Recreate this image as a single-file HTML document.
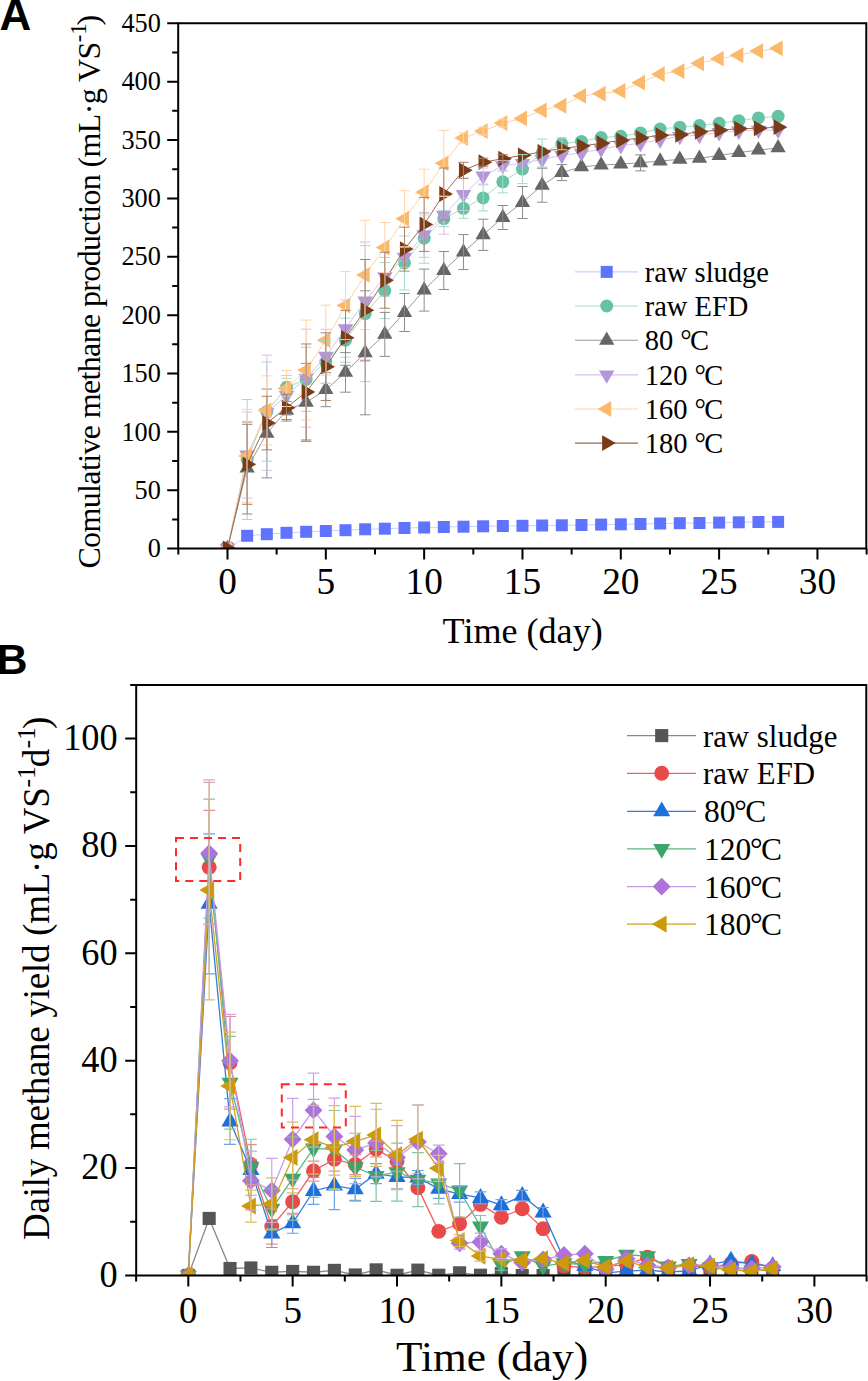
<!DOCTYPE html><html><head><meta charset="utf-8"><style>html,body{margin:0;padding:0;background:#fff;width:868px;height:1381px;overflow:hidden}svg{display:block}text{font-family:"Liberation Serif",serif;fill:#000}.lab{font-family:"Liberation Sans",sans-serif;font-weight:bold}</style></head><body>
<svg width="868" height="1381" viewBox="0 0 868 1381">
<text x="-0.6" y="29.7" font-size="44" class="lab">A</text>
<text transform="translate(160.9 557.3) scale(0.97 1)" font-size="27.1" text-anchor="end">0</text>
<text transform="translate(160.9 498.94) scale(0.97 1)" font-size="27.1" text-anchor="end">50</text>
<text transform="translate(160.9 440.57) scale(0.97 1)" font-size="27.1" text-anchor="end">100</text>
<text transform="translate(160.9 382.2) scale(0.97 1)" font-size="27.1" text-anchor="end">150</text>
<text transform="translate(160.9 323.84) scale(0.97 1)" font-size="27.1" text-anchor="end">200</text>
<text transform="translate(160.9 265.48) scale(0.97 1)" font-size="27.1" text-anchor="end">250</text>
<text transform="translate(160.9 207.11) scale(0.97 1)" font-size="27.1" text-anchor="end">300</text>
<text transform="translate(160.9 148.75) scale(0.97 1)" font-size="27.1" text-anchor="end">350</text>
<text transform="translate(160.9 90.38) scale(0.97 1)" font-size="27.1" text-anchor="end">400</text>
<text transform="translate(160.9 32.02) scale(0.97 1)" font-size="27.1" text-anchor="end">450</text>
<text x="227.5" y="593.9" font-size="37.3" text-anchor="middle">0</text>
<text x="325.82" y="593.9" font-size="37.3" text-anchor="middle">5</text>
<text x="424.15" y="593.9" font-size="37.3" text-anchor="middle">10</text>
<text x="522.47" y="593.9" font-size="37.3" text-anchor="middle">15</text>
<text x="620.8" y="593.9" font-size="37.3" text-anchor="middle">20</text>
<text x="719.12" y="593.9" font-size="37.3" text-anchor="middle">25</text>
<text x="817.45" y="593.9" font-size="37.3" text-anchor="middle">30</text>
<text transform="translate(442.6 643.3) scale(1.02 1)" font-size="35.4">Time (day)</text>
<text transform="translate(100 568.6) rotate(-90)" font-size="32" textLength="526.8" lengthAdjust="spacing">Comulative methane production (mL·g VS</text>
<text transform="translate(85.9 42.2) rotate(-90)" font-size="22.7">-1</text>
<text transform="translate(99.1 25.4) rotate(-90)" font-size="32">)</text>
<defs><clipPath id="ca"><rect x="178.2" y="23.3" width="688.1" height="525.3"/></clipPath><clipPath id="cb"><rect x="136.2" y="685.4" width="730.1" height="590"/></clipPath></defs>
<g clip-path="url(#ca)">
<polyline points="227.5,548.5 247.16,535.8 266.83,534.2 286.5,532.8 306.16,531.8 325.82,531 345.49,530.2 365.15,529.3 384.82,528.7 404.49,528 424.15,527.5 443.81,527 463.48,526.7 483.14,526.3 502.81,526 522.47,525.8 542.14,525.5 561.81,525.3 581.47,525 601.13,524.6 620.8,524.3 640.46,524 660.13,523.5 679.79,523.2 699.46,523 719.12,522.6 738.79,522.3 758.45,522 778.12,521.9" fill="none" stroke="#C9CFFF" stroke-width="1"/>
<rect x="221.5" y="542.5" width="12" height="12" fill="#5F73FF"/>
<rect x="241.16" y="529.8" width="12" height="12" fill="#5F73FF"/>
<rect x="260.83" y="528.2" width="12" height="12" fill="#5F73FF"/>
<rect x="280.5" y="526.8" width="12" height="12" fill="#5F73FF"/>
<rect x="300.16" y="525.8" width="12" height="12" fill="#5F73FF"/>
<rect x="319.82" y="525" width="12" height="12" fill="#5F73FF"/>
<rect x="339.49" y="524.2" width="12" height="12" fill="#5F73FF"/>
<rect x="359.15" y="523.3" width="12" height="12" fill="#5F73FF"/>
<rect x="378.82" y="522.7" width="12" height="12" fill="#5F73FF"/>
<rect x="398.49" y="522" width="12" height="12" fill="#5F73FF"/>
<rect x="418.15" y="521.5" width="12" height="12" fill="#5F73FF"/>
<rect x="437.81" y="521" width="12" height="12" fill="#5F73FF"/>
<rect x="457.48" y="520.7" width="12" height="12" fill="#5F73FF"/>
<rect x="477.14" y="520.3" width="12" height="12" fill="#5F73FF"/>
<rect x="496.81" y="520" width="12" height="12" fill="#5F73FF"/>
<rect x="516.47" y="519.8" width="12" height="12" fill="#5F73FF"/>
<rect x="536.14" y="519.5" width="12" height="12" fill="#5F73FF"/>
<rect x="555.81" y="519.3" width="12" height="12" fill="#5F73FF"/>
<rect x="575.47" y="519" width="12" height="12" fill="#5F73FF"/>
<rect x="595.13" y="518.6" width="12" height="12" fill="#5F73FF"/>
<rect x="614.8" y="518.3" width="12" height="12" fill="#5F73FF"/>
<rect x="634.46" y="518" width="12" height="12" fill="#5F73FF"/>
<rect x="654.13" y="517.5" width="12" height="12" fill="#5F73FF"/>
<rect x="673.79" y="517.2" width="12" height="12" fill="#5F73FF"/>
<rect x="693.46" y="517" width="12" height="12" fill="#5F73FF"/>
<rect x="713.12" y="516.6" width="12" height="12" fill="#5F73FF"/>
<rect x="732.79" y="516.3" width="12" height="12" fill="#5F73FF"/>
<rect x="752.45" y="516" width="12" height="12" fill="#5F73FF"/>
<rect x="772.12" y="515.9" width="12" height="12" fill="#5F73FF"/>
<polyline points="227.5,548.5 247.16,459.5 266.83,411.57 286.5,387.37 306.16,379.31 325.82,362.03 345.49,340.14 365.15,313.64 384.82,290.6 404.49,262.95 424.15,238.25 443.81,218.66 463.48,208.29 483.14,197.93 502.81,181.8 522.47,169.12 542.14,153 561.81,143.78 581.47,141.47 601.13,137.51 620.8,136.36 640.46,132.9 660.13,128.99 679.79,127.14 699.46,125.53 719.12,123.23 738.79,120.69 758.45,117.93 778.12,116.31" fill="none" stroke="#A8DCCB" stroke-width="1"/>
<circle cx="227.5" cy="548.5" r="6.5" fill="#66C2A5"/>
<circle cx="247.16" cy="459.5" r="6.5" fill="#66C2A5"/>
<circle cx="266.83" cy="411.57" r="6.5" fill="#66C2A5"/>
<circle cx="286.5" cy="387.37" r="6.5" fill="#66C2A5"/>
<circle cx="306.16" cy="379.31" r="6.5" fill="#66C2A5"/>
<circle cx="325.82" cy="362.03" r="6.5" fill="#66C2A5"/>
<circle cx="345.49" cy="340.14" r="6.5" fill="#66C2A5"/>
<circle cx="365.15" cy="313.64" r="6.5" fill="#66C2A5"/>
<circle cx="384.82" cy="290.6" r="6.5" fill="#66C2A5"/>
<circle cx="404.49" cy="262.95" r="6.5" fill="#66C2A5"/>
<circle cx="424.15" cy="238.25" r="6.5" fill="#66C2A5"/>
<circle cx="443.81" cy="218.66" r="6.5" fill="#66C2A5"/>
<circle cx="463.48" cy="208.29" r="6.5" fill="#66C2A5"/>
<circle cx="483.14" cy="197.93" r="6.5" fill="#66C2A5"/>
<circle cx="502.81" cy="181.8" r="6.5" fill="#66C2A5"/>
<circle cx="522.47" cy="169.12" r="6.5" fill="#66C2A5"/>
<circle cx="542.14" cy="153" r="6.5" fill="#66C2A5"/>
<circle cx="561.81" cy="143.78" r="6.5" fill="#66C2A5"/>
<circle cx="581.47" cy="141.47" r="6.5" fill="#66C2A5"/>
<circle cx="601.13" cy="137.51" r="6.5" fill="#66C2A5"/>
<circle cx="620.8" cy="136.36" r="6.5" fill="#66C2A5"/>
<circle cx="640.46" cy="132.9" r="6.5" fill="#66C2A5"/>
<circle cx="660.13" cy="128.99" r="6.5" fill="#66C2A5"/>
<circle cx="679.79" cy="127.14" r="6.5" fill="#66C2A5"/>
<circle cx="699.46" cy="125.53" r="6.5" fill="#66C2A5"/>
<circle cx="719.12" cy="123.23" r="6.5" fill="#66C2A5"/>
<circle cx="738.79" cy="120.69" r="6.5" fill="#66C2A5"/>
<circle cx="758.45" cy="117.93" r="6.5" fill="#66C2A5"/>
<circle cx="778.12" cy="116.31" r="6.5" fill="#66C2A5"/>
<polyline points="227.5,548.5 247.16,468 266.83,433.46 286.5,410.41 306.16,402.35 325.82,389.68 345.49,372.4 365.15,352.81 384.82,334.38 404.49,312.49 424.15,290.09 443.81,270.51 463.48,252.07 483.14,234.79 502.81,217.51 522.47,202.53 542.14,185.25 561.81,172.58 581.47,166.82 601.13,165.16 620.8,164.01 640.46,162.86 660.13,161.01 679.79,159.4 699.46,158.25 719.12,155.48 738.79,152.49 758.45,150.18 778.12,147.88" fill="none" stroke="#999999" stroke-width="1"/>
<polygon points="227.5,539.67 235.15,552.92 219.85,552.92" fill="#666666"/>
<polygon points="247.16,459.17 254.81,472.42 239.51,472.42" fill="#666666"/>
<polygon points="266.83,424.62 274.48,437.87 259.18,437.87" fill="#666666"/>
<polygon points="286.5,401.58 294.14,414.83 278.85,414.83" fill="#666666"/>
<polygon points="306.16,393.52 313.81,406.77 298.51,406.77" fill="#666666"/>
<polygon points="325.82,380.84 333.47,394.09 318.18,394.09" fill="#666666"/>
<polygon points="345.49,363.56 353.14,376.81 337.84,376.81" fill="#666666"/>
<polygon points="365.15,343.98 372.8,357.23 357.5,357.23" fill="#666666"/>
<polygon points="384.82,325.54 392.47,338.79 377.17,338.79" fill="#666666"/>
<polygon points="404.49,303.66 412.13,316.91 396.84,316.91" fill="#666666"/>
<polygon points="424.15,281.26 431.8,294.51 416.5,294.51" fill="#666666"/>
<polygon points="443.81,261.67 451.46,274.92 436.17,274.92" fill="#666666"/>
<polygon points="463.48,243.24 471.13,256.49 455.83,256.49" fill="#666666"/>
<polygon points="483.14,225.96 490.79,239.21 475.5,239.21" fill="#666666"/>
<polygon points="502.81,208.68 510.46,221.93 495.16,221.93" fill="#666666"/>
<polygon points="522.47,193.7 530.12,206.95 514.82,206.95" fill="#666666"/>
<polygon points="542.14,176.42 549.79,189.67 534.49,189.67" fill="#666666"/>
<polygon points="561.81,163.75 569.46,177 554.16,177" fill="#666666"/>
<polygon points="581.47,157.99 589.12,171.24 573.82,171.24" fill="#666666"/>
<polygon points="601.13,156.33 608.78,169.58 593.49,169.58" fill="#666666"/>
<polygon points="620.8,155.18 628.45,168.43 613.15,168.43" fill="#666666"/>
<polygon points="640.46,154.02 648.11,167.27 632.81,167.27" fill="#666666"/>
<polygon points="660.13,152.18 667.78,165.43 652.48,165.43" fill="#666666"/>
<polygon points="679.79,150.57 687.44,163.82 672.14,163.82" fill="#666666"/>
<polygon points="699.46,149.42 707.11,162.67 691.81,162.67" fill="#666666"/>
<polygon points="719.12,146.65 726.77,159.9 711.48,159.9" fill="#666666"/>
<polygon points="738.79,143.66 746.44,156.91 731.14,156.91" fill="#666666"/>
<polygon points="758.45,141.35 766.1,154.6 750.8,154.6" fill="#666666"/>
<polygon points="778.12,139.05 785.77,152.3 770.47,152.3" fill="#666666"/>
<polyline points="227.5,548.5 247.16,455 266.83,412.72 286.5,395.44 306.16,378.16 325.82,356.27 345.49,328.62 365.15,300.97 384.82,276.77 404.49,257.19 424.15,234.79 443.81,215.21 463.48,194.47 483.14,176.04 502.81,165.67 522.47,163.36 542.14,159.45 561.81,155.3 581.47,153 601.13,149.03 620.8,145.58 640.46,143.27 660.13,139.82 679.79,136.36 699.46,135.21 719.12,132.44 738.79,131.06 758.45,130.14 778.12,130.14" fill="none" stroke="#D5C3EC" stroke-width="1"/>
<polygon points="227.5,557.45 235.25,544.03 219.75,544.03" fill="#B497D8"/>
<polygon points="247.16,463.95 254.91,450.53 239.41,450.53" fill="#B497D8"/>
<polygon points="266.83,421.67 274.58,408.24 259.08,408.24" fill="#B497D8"/>
<polygon points="286.5,404.39 294.25,390.96 278.75,390.96" fill="#B497D8"/>
<polygon points="306.16,387.11 313.91,373.68 298.41,373.68" fill="#B497D8"/>
<polygon points="325.82,365.22 333.57,351.79 318.07,351.79" fill="#B497D8"/>
<polygon points="345.49,337.57 353.24,324.14 337.74,324.14" fill="#B497D8"/>
<polygon points="365.15,309.92 372.9,296.49 357.4,296.49" fill="#B497D8"/>
<polygon points="384.82,285.72 392.57,272.3 377.07,272.3" fill="#B497D8"/>
<polygon points="404.49,266.14 412.24,252.71 396.74,252.71" fill="#B497D8"/>
<polygon points="424.15,243.74 431.9,230.32 416.4,230.32" fill="#B497D8"/>
<polygon points="443.81,224.16 451.56,210.73 436.06,210.73" fill="#B497D8"/>
<polygon points="463.48,203.42 471.23,190 455.73,190" fill="#B497D8"/>
<polygon points="483.14,184.99 490.89,171.56 475.39,171.56" fill="#B497D8"/>
<polygon points="502.81,174.62 510.56,161.19 495.06,161.19" fill="#B497D8"/>
<polygon points="522.47,172.31 530.22,158.89 514.72,158.89" fill="#B497D8"/>
<polygon points="542.14,168.4 549.89,154.97 534.39,154.97" fill="#B497D8"/>
<polygon points="561.81,164.25 569.56,150.83 554.06,150.83" fill="#B497D8"/>
<polygon points="581.47,161.94 589.22,148.52 573.72,148.52" fill="#B497D8"/>
<polygon points="601.13,157.98 608.88,144.56 593.38,144.56" fill="#B497D8"/>
<polygon points="620.8,154.52 628.55,141.1 613.05,141.1" fill="#B497D8"/>
<polygon points="640.46,152.22 648.21,138.8 632.71,138.8" fill="#B497D8"/>
<polygon points="660.13,148.76 667.88,135.34 652.38,135.34" fill="#B497D8"/>
<polygon points="679.79,145.31 687.54,131.89 672.04,131.89" fill="#B497D8"/>
<polygon points="699.46,144.16 707.21,130.73 691.71,130.73" fill="#B497D8"/>
<polygon points="719.12,141.39 726.88,127.97 711.38,127.97" fill="#B497D8"/>
<polygon points="738.79,140.01 746.54,126.59 731.04,126.59" fill="#B497D8"/>
<polygon points="758.45,139.09 766.2,125.66 750.7,125.66" fill="#B497D8"/>
<polygon points="778.12,139.09 785.87,125.66 770.37,125.66" fill="#B497D8"/>
<polyline points="227.5,548.5 247.16,456 266.83,410.41 286.5,388.53 306.16,370.09 325.82,340.14 345.49,305.58 365.15,274.93 384.82,247.51 404.49,218.71 424.15,192.17 443.81,163.36 463.48,138.02 483.14,131.11 502.81,123.04 522.47,118.43 542.14,110.37 561.81,105.76 581.47,95.85 601.13,93.73 620.8,90.97 640.46,82.67 660.13,74.15 679.79,71.15 699.46,63.32 719.12,58.71 738.79,55.25 758.45,51.11 778.12,48.34" fill="none" stroke="#FDD4A3" stroke-width="1"/>
<polygon points="218.38,548.5 232.06,540.6 232.06,556.4" fill="#FDB96B"/>
<polygon points="238.04,456 251.73,448.1 251.73,463.9" fill="#FDB96B"/>
<polygon points="257.71,410.41 271.39,402.51 271.39,418.31" fill="#FDB96B"/>
<polygon points="277.37,388.53 291.06,380.63 291.06,396.43" fill="#FDB96B"/>
<polygon points="297.04,370.09 310.72,362.19 310.72,377.99" fill="#FDB96B"/>
<polygon points="316.7,340.14 330.39,332.24 330.39,348.04" fill="#FDB96B"/>
<polygon points="336.37,305.58 350.05,297.68 350.05,313.48" fill="#FDB96B"/>
<polygon points="356.03,274.93 369.72,267.03 369.72,282.83" fill="#FDB96B"/>
<polygon points="375.7,247.51 389.38,239.61 389.38,255.41" fill="#FDB96B"/>
<polygon points="395.36,218.71 409.05,210.81 409.05,226.61" fill="#FDB96B"/>
<polygon points="415.03,192.17 428.71,184.27 428.71,200.07" fill="#FDB96B"/>
<polygon points="434.69,163.36 448.38,155.46 448.38,171.26" fill="#FDB96B"/>
<polygon points="454.36,138.02 468.04,130.12 468.04,145.92" fill="#FDB96B"/>
<polygon points="474.02,131.11 487.71,123.21 487.71,139.01" fill="#FDB96B"/>
<polygon points="493.69,123.04 507.37,115.14 507.37,130.94" fill="#FDB96B"/>
<polygon points="513.35,118.43 527.04,110.53 527.04,126.33" fill="#FDB96B"/>
<polygon points="533.02,110.37 546.7,102.47 546.7,118.27" fill="#FDB96B"/>
<polygon points="552.68,105.76 566.37,97.86 566.37,113.66" fill="#FDB96B"/>
<polygon points="572.35,95.85 586.03,87.95 586.03,103.75" fill="#FDB96B"/>
<polygon points="592.01,93.73 605.7,85.83 605.7,101.63" fill="#FDB96B"/>
<polygon points="611.68,90.97 625.36,83.07 625.36,98.87" fill="#FDB96B"/>
<polygon points="631.34,82.67 645.03,74.77 645.03,90.57" fill="#FDB96B"/>
<polygon points="651.01,74.15 664.69,66.25 664.69,82.05" fill="#FDB96B"/>
<polygon points="670.67,71.15 684.36,63.25 684.36,79.05" fill="#FDB96B"/>
<polygon points="690.34,63.32 704.02,55.42 704.02,71.22" fill="#FDB96B"/>
<polygon points="710,58.71 723.69,50.81 723.69,66.61" fill="#FDB96B"/>
<polygon points="729.67,55.25 743.35,47.35 743.35,63.15" fill="#FDB96B"/>
<polygon points="749.33,51.11 763.02,43.21 763.02,59.01" fill="#FDB96B"/>
<polygon points="769,48.34 782.68,40.44 782.68,56.24" fill="#FDB96B"/>
<polyline points="227.5,548.5 247.16,464.3 266.83,423.09 286.5,407.65 306.16,391.98 325.82,366.64 345.49,337.83 365.15,310.18 384.82,280.23 404.49,249.12 424.15,224.42 443.81,194.01 463.48,170.28 483.14,162.21 502.81,158.76 522.47,155.3 542.14,151.84 561.81,148.39 581.47,146.08 601.13,143.27 620.8,140.28 640.46,137.97 660.13,135.21 679.79,134.75 699.46,131.75 719.12,130.14 738.79,128.76 758.45,128.29 778.12,127.14" fill="none" stroke="#9E6A4E" stroke-width="1"/>
<polygon points="236.62,548.5 222.94,540.6 222.94,556.4" fill="#7A3B17"/>
<polygon points="256.29,464.3 242.6,456.4 242.6,472.2" fill="#7A3B17"/>
<polygon points="275.95,423.09 262.27,415.19 262.27,430.99" fill="#7A3B17"/>
<polygon points="295.62,407.65 281.93,399.75 281.93,415.55" fill="#7A3B17"/>
<polygon points="315.28,391.98 301.6,384.08 301.6,399.88" fill="#7A3B17"/>
<polygon points="334.95,366.64 321.26,358.74 321.26,374.54" fill="#7A3B17"/>
<polygon points="354.61,337.83 340.93,329.93 340.93,345.73" fill="#7A3B17"/>
<polygon points="374.28,310.18 360.59,302.28 360.59,318.08" fill="#7A3B17"/>
<polygon points="393.94,280.23 380.26,272.33 380.26,288.13" fill="#7A3B17"/>
<polygon points="413.61,249.12 399.92,241.22 399.92,257.02" fill="#7A3B17"/>
<polygon points="433.27,224.42 419.59,216.52 419.59,232.32" fill="#7A3B17"/>
<polygon points="452.94,194.01 439.25,186.11 439.25,201.91" fill="#7A3B17"/>
<polygon points="472.6,170.28 458.92,162.38 458.92,178.18" fill="#7A3B17"/>
<polygon points="492.27,162.21 478.58,154.31 478.58,170.11" fill="#7A3B17"/>
<polygon points="511.93,158.76 498.25,150.86 498.25,166.66" fill="#7A3B17"/>
<polygon points="531.6,155.3 517.91,147.4 517.91,163.2" fill="#7A3B17"/>
<polygon points="551.26,151.84 537.58,143.94 537.58,159.74" fill="#7A3B17"/>
<polygon points="570.93,148.39 557.24,140.49 557.24,156.29" fill="#7A3B17"/>
<polygon points="590.59,146.08 576.91,138.18 576.91,153.98" fill="#7A3B17"/>
<polygon points="610.26,143.27 596.57,135.37 596.57,151.17" fill="#7A3B17"/>
<polygon points="629.92,140.28 616.24,132.38 616.24,148.18" fill="#7A3B17"/>
<polygon points="649.59,137.97 635.9,130.07 635.9,145.87" fill="#7A3B17"/>
<polygon points="669.25,135.21 655.57,127.31 655.57,143.11" fill="#7A3B17"/>
<polygon points="688.92,134.75 675.23,126.85 675.23,142.65" fill="#7A3B17"/>
<polygon points="708.58,131.75 694.9,123.85 694.9,139.65" fill="#7A3B17"/>
<polygon points="728.25,130.14 714.56,122.24 714.56,138.04" fill="#7A3B17"/>
<polygon points="747.91,128.76 734.23,120.86 734.23,136.66" fill="#7A3B17"/>
<polygon points="767.58,128.29 753.89,120.39 753.89,136.19" fill="#7A3B17"/>
<polygon points="787.24,127.14 773.56,119.24 773.56,135.04" fill="#7A3B17"/>
<path d="M247.16 399.5V519.5M241.97 399.5h10.4M241.97 519.5h10.4M266.83 361.97V461.17M261.63 361.97h10.4M261.63 461.17h10.4M286.5 378.37V396.37M281.3 378.37h10.4M281.3 396.37h10.4M306.16 347.31V411.31M300.96 347.31h10.4M300.96 411.31h10.4M325.82 340.53V383.53M320.62 340.53h10.4M320.62 383.53h10.4M345.49 318.14V362.14M340.29 318.14h10.4M340.29 362.14h10.4M365.15 245.64V381.64M359.95 245.64h10.4M359.95 381.64h10.4M384.82 262.6V318.6M379.62 262.6h10.4M379.62 318.6h10.4M404.49 235.95V289.95M399.29 235.95h10.4M399.29 289.95h10.4M424.15 213.25V263.25M418.95 213.25h10.4M418.95 263.25h10.4M443.81 210.66V226.66M438.62 210.66h10.4M438.62 226.66h10.4M463.48 198.29V218.29M458.28 198.29h10.4M458.28 218.29h10.4M483.14 184.93V210.93M477.94 184.93h10.4M477.94 210.93h10.4M502.81 170.8V192.8M497.61 170.8h10.4M497.61 192.8h10.4M522.47 154.62V183.62M517.27 154.62h10.4M517.27 183.62h10.4M542.14 139V167M536.94 139h10.4M536.94 167h10.4M561.81 137.78V149.78M556.61 137.78h10.4M556.61 149.78h10.4" fill="none" stroke="#A3DAC9" stroke-width="1"/>
<path d="M247.16 422V514M241.97 422h10.4M241.97 514h10.4M266.83 389.06V477.86M261.63 389.06h10.4M261.63 477.86h10.4M286.5 401.41V419.41M281.3 401.41h10.4M281.3 419.41h10.4M306.16 363.35V441.35M300.96 363.35h10.4M300.96 441.35h10.4M325.82 372.68V406.68M320.62 372.68h10.4M320.62 406.68h10.4M345.49 352.6V392.2M340.29 352.6h10.4M340.29 392.2h10.4M365.15 290.81V414.81M359.95 290.81h10.4M359.95 414.81h10.4M384.82 312.38V356.38M379.62 312.38h10.4M379.62 356.38h10.4M404.49 293.49V331.49M399.29 293.49h10.4M399.29 331.49h10.4M424.15 269.09V311.09M418.95 269.09h10.4M418.95 311.09h10.4M443.81 251.51V289.51M438.62 251.51h10.4M438.62 289.51h10.4M463.48 234.57V269.57M458.28 234.57h10.4M458.28 269.57h10.4M483.14 219.19V250.39M477.94 219.19h10.4M477.94 250.39h10.4M502.81 205.51V229.51M497.61 205.51h10.4M497.61 229.51h10.4M522.47 186.53V218.53M517.27 186.53h10.4M517.27 218.53h10.4M542.14 168.25V202.25M536.94 168.25h10.4M536.94 202.25h10.4M561.81 164.58V180.58M556.61 164.58h10.4M556.61 180.58h10.4M640.46 154.86V170.86M635.26 154.86h10.4M635.26 170.86h10.4" fill="none" stroke="#8C8C8C" stroke-width="1"/>
<path d="M247.16 412V498M241.97 412h10.4M241.97 498h10.4M266.83 355.12V470.32M261.63 355.12h10.4M261.63 470.32h10.4M286.5 375.44V415.44M281.3 375.44h10.4M281.3 415.44h10.4M306.16 329.16V427.16M300.96 329.16h10.4M300.96 427.16h10.4M325.82 329.27V383.27M320.62 329.27h10.4M320.62 383.27h10.4M345.49 300.02V357.22M340.29 300.02h10.4M340.29 357.22h10.4M365.15 241.97V359.97M359.95 241.97h10.4M359.95 359.97h10.4M384.82 257.37V296.17M379.62 257.37h10.4M379.62 296.17h10.4M404.49 247.19V267.19M399.29 247.19h10.4M399.29 267.19h10.4M424.15 212.29V257.29M418.95 212.29h10.4M418.95 257.29h10.4M443.81 196.21V234.21M438.62 196.21h10.4M438.62 234.21h10.4M463.48 178.47V210.47M458.28 178.47h10.4M458.28 210.47h10.4M483.14 168.04V184.04M477.94 168.04h10.4M477.94 184.04h10.4M502.81 160.67V170.67M497.61 160.67h10.4M497.61 170.67h10.4" fill="none" stroke="#D2C1E8" stroke-width="1"/>
<path d="M247.16 409.4V502.6M241.97 409.4h10.4M241.97 502.6h10.4M266.83 375.91V444.91M261.63 375.91h10.4M261.63 444.91h10.4M286.5 370.53V406.53M281.3 370.53h10.4M281.3 406.53h10.4M306.16 320.09V420.09M300.96 320.09h10.4M300.96 420.09h10.4M325.82 305.14V375.14M320.62 305.14h10.4M320.62 375.14h10.4M345.49 271.58V339.58M340.29 271.58h10.4M340.29 339.58h10.4M365.15 220.33V329.53M359.95 220.33h10.4M359.95 329.53h10.4M384.82 222.51V272.51M379.62 222.51h10.4M379.62 272.51h10.4M404.49 190.71V246.71M399.29 190.71h10.4M399.29 246.71h10.4M424.15 169.17V215.17M418.95 169.17h10.4M418.95 215.17h10.4M443.81 130.36V196.36M438.62 130.36h10.4M438.62 196.36h10.4M463.48 133.02V143.02M458.28 133.02h10.4M458.28 143.02h10.4M483.14 127.11V135.11M477.94 127.11h10.4M477.94 135.11h10.4M502.81 119.04V127.04M497.61 119.04h10.4M497.61 127.04h10.4" fill="none" stroke="#FED5A6" stroke-width="1"/>
<path d="M247.16 424.3V504.3M241.97 424.3h10.4M241.97 504.3h10.4M266.83 396.29V449.89M261.63 396.29h10.4M261.63 449.89h10.4M286.5 394.25V421.05M281.3 394.25h10.4M281.3 421.05h10.4M306.16 343.98V439.98M300.96 343.98h10.4M300.96 439.98h10.4M325.82 332.84V400.44M320.62 332.84h10.4M320.62 400.44h10.4M345.49 310.33V365.33M340.29 310.33h10.4M340.29 365.33h10.4M365.15 259.48V360.88M359.95 259.48h10.4M359.95 360.88h10.4M384.82 252.23V308.23M379.62 252.23h10.4M379.62 308.23h10.4M404.49 227.12V271.12M399.29 227.12h10.4M399.29 271.12h10.4M424.15 197.42V251.42M418.95 197.42h10.4M418.95 251.42h10.4M443.81 168.01V220.01M438.62 168.01h10.4M438.62 220.01h10.4M463.48 162.28V178.28M458.28 162.28h10.4M458.28 178.28h10.4M483.14 158.21V166.21M477.94 158.21h10.4M477.94 166.21h10.4M502.81 154.76V162.76M497.61 154.76h10.4M497.61 162.76h10.4" fill="none" stroke="#A98068" stroke-width="1"/>
</g>
<path d="M178.2 23.3H866.3V548.6H178.2Z" fill="none" stroke="#000" stroke-width="2"/>
<path d="M227.5 548.6v11M325.82 548.6v11M424.15 548.6v11M522.47 548.6v11M620.8 548.6v11M719.12 548.6v11M817.45 548.6v11M178.34 548.6v6M276.66 548.6v6M374.99 548.6v6M473.31 548.6v6M571.64 548.6v6M669.96 548.6v6M768.29 548.6v6M866.61 548.6v6M178.2 548.6h-11M178.2 490.24h-11M178.2 431.87h-11M178.2 373.5h-11M178.2 315.14h-11M178.2 256.78h-11M178.2 198.41h-11M178.2 140.05h-11M178.2 81.68h-11M178.2 23.32h-11M178.2 519.42h-6M178.2 461.05h-6M178.2 402.69h-6M178.2 344.32h-6M178.2 285.96h-6M178.2 227.59h-6M178.2 169.23h-6M178.2 110.86h-6M178.2 52.5h-6" stroke="#000" stroke-width="2" fill="none"/>
<path d="M575 271.9H638" stroke="#C9CFFF" stroke-width="1.1"/>
<rect x="600.7" y="265.9" width="12" height="12" fill="#5F73FF"/>
<text x="644.7" y="281.7" font-size="28.5">raw sludge</text>
<path d="M575 306H638" stroke="#A8DCCB" stroke-width="1.1"/>
<circle cx="606.7" cy="306" r="6.5" fill="#66C2A5"/>
<text x="644.7" y="315.8" font-size="28.5">raw EFD</text>
<path d="M575 340.3H638" stroke="#999999" stroke-width="1.1"/>
<polygon points="606.7,331.47 614.35,344.72 599.05,344.72" fill="#666666"/>
<text x="644.7" y="350.1" font-size="28.5">80 °<tspan dx="-1.8">C</tspan></text>
<path d="M575 374.9H638" stroke="#D5C3EC" stroke-width="1.1"/>
<polygon points="606.7,383.85 614.45,370.43 598.95,370.43" fill="#B497D8"/>
<text x="644.7" y="384.7" font-size="28.5">120 °<tspan dx="-1.8">C</tspan></text>
<path d="M575 409H638" stroke="#FDD4A3" stroke-width="1.1"/>
<polygon points="597.58,409 611.26,401.1 611.26,416.9" fill="#FDB96B"/>
<text x="644.7" y="418.8" font-size="28.5">160 °<tspan dx="-1.8">C</tspan></text>
<path d="M575 443.1H638" stroke="#9E6A4E" stroke-width="1.1"/>
<polygon points="615.82,443.1 602.14,435.2 602.14,451" fill="#7A3B17"/>
<text x="644.7" y="452.9" font-size="28.5">180 °<tspan dx="-1.8">C</tspan></text>
<text x="-3.6" y="674.1" font-size="43" class="lab">B</text>
<text transform="translate(117.7 1286.6) scale(0.97 1)" font-size="37.5" text-anchor="end">0</text>
<text transform="translate(117.7 1179.24) scale(0.97 1)" font-size="37.5" text-anchor="end">20</text>
<text transform="translate(117.7 1071.88) scale(0.97 1)" font-size="37.5" text-anchor="end">40</text>
<text transform="translate(117.7 964.52) scale(0.97 1)" font-size="37.5" text-anchor="end">60</text>
<text transform="translate(117.7 857.16) scale(0.97 1)" font-size="37.5" text-anchor="end">80</text>
<text transform="translate(117.7 749.8) scale(0.97 1)" font-size="37.5" text-anchor="end">100</text>
<text x="188.3" y="1323.4" font-size="37" text-anchor="middle">0</text>
<text x="292.65" y="1323.4" font-size="37" text-anchor="middle">5</text>
<text x="397" y="1323.4" font-size="37" text-anchor="middle">10</text>
<text x="501.35" y="1323.4" font-size="37" text-anchor="middle">15</text>
<text x="605.7" y="1323.4" font-size="37" text-anchor="middle">20</text>
<text x="710.05" y="1323.4" font-size="37" text-anchor="middle">25</text>
<text x="814.4" y="1323.4" font-size="37" text-anchor="middle">30</text>
<text transform="translate(396 1370.9) scale(1.02 1)" font-size="42.5">Time (day)</text>
<text transform="translate(49.4 1239.9) rotate(-90)" font-size="37" textLength="452.7" lengthAdjust="spacing">Daily methane yield (mL·g VS</text>
<text transform="translate(35 787.6) rotate(-90)" font-size="25.8">-1</text>
<text transform="translate(49.4 767.3) rotate(-90)" font-size="37">d</text>
<text transform="translate(35 748.5) rotate(-90)" font-size="25.8">-1</text>
<text transform="translate(49 728.9) rotate(-90)" font-size="37">)</text>
<g clip-path="url(#cb)">
<polyline points="188.3,1275.5 209.17,1218.42 230.04,1268.5 250.91,1267.96 271.78,1272.27 292.65,1271.46 313.52,1272.27 334.39,1270.38 355.26,1274.96 376.13,1269.85 397,1275.23 417.87,1270.12 438.74,1275.23 459.61,1272.81 480.48,1275.23 501.35,1273.62 522.22,1275.5 543.09,1275.5 563.96,1274.96 584.83,1274.96 605.7,1275.23 626.57,1275.23 647.44,1275.23 668.31,1275.23 689.18,1275.23 710.05,1275.23 730.92,1275.23 751.79,1275.23 772.66,1275.23" fill="none" stroke="#888888" stroke-width="1.3"/>
<rect x="181.75" y="1268.95" width="13.1" height="13.1" fill="#555555"/>
<rect x="202.62" y="1211.87" width="13.1" height="13.1" fill="#555555"/>
<rect x="223.49" y="1261.95" width="13.1" height="13.1" fill="#555555"/>
<rect x="244.36" y="1261.41" width="13.1" height="13.1" fill="#555555"/>
<rect x="265.23" y="1265.72" width="13.1" height="13.1" fill="#555555"/>
<rect x="286.1" y="1264.91" width="13.1" height="13.1" fill="#555555"/>
<rect x="306.97" y="1265.72" width="13.1" height="13.1" fill="#555555"/>
<rect x="327.84" y="1263.83" width="13.1" height="13.1" fill="#555555"/>
<rect x="348.71" y="1268.41" width="13.1" height="13.1" fill="#555555"/>
<rect x="369.58" y="1263.3" width="13.1" height="13.1" fill="#555555"/>
<rect x="390.45" y="1268.68" width="13.1" height="13.1" fill="#555555"/>
<rect x="411.32" y="1263.57" width="13.1" height="13.1" fill="#555555"/>
<rect x="432.19" y="1268.68" width="13.1" height="13.1" fill="#555555"/>
<rect x="453.06" y="1266.26" width="13.1" height="13.1" fill="#555555"/>
<rect x="473.93" y="1268.68" width="13.1" height="13.1" fill="#555555"/>
<rect x="494.8" y="1267.07" width="13.1" height="13.1" fill="#555555"/>
<rect x="515.67" y="1268.95" width="13.1" height="13.1" fill="#555555"/>
<rect x="536.54" y="1268.95" width="13.1" height="13.1" fill="#555555"/>
<rect x="557.41" y="1268.41" width="13.1" height="13.1" fill="#555555"/>
<rect x="578.28" y="1268.41" width="13.1" height="13.1" fill="#555555"/>
<rect x="599.15" y="1268.68" width="13.1" height="13.1" fill="#555555"/>
<rect x="620.02" y="1268.68" width="13.1" height="13.1" fill="#555555"/>
<rect x="640.89" y="1268.68" width="13.1" height="13.1" fill="#555555"/>
<rect x="661.76" y="1268.68" width="13.1" height="13.1" fill="#555555"/>
<rect x="682.63" y="1268.68" width="13.1" height="13.1" fill="#555555"/>
<rect x="703.5" y="1268.68" width="13.1" height="13.1" fill="#555555"/>
<rect x="724.37" y="1268.68" width="13.1" height="13.1" fill="#555555"/>
<rect x="745.24" y="1268.68" width="13.1" height="13.1" fill="#555555"/>
<rect x="766.11" y="1268.68" width="13.1" height="13.1" fill="#555555"/>
<polyline points="188.3,1275.5 209.17,867.32 230.04,1062.79 250.91,1164.57 271.78,1226.5 292.65,1201.73 313.52,1171.03 334.39,1159.18 355.26,1164.57 376.13,1148.95 397,1161.34 417.87,1187.72 438.74,1231.34 459.61,1223.8 480.48,1204.42 501.35,1217.34 522.22,1208.73 543.09,1228.65 563.96,1266.08 584.83,1267.42 605.7,1266.35 626.57,1264.73 647.44,1257.19 668.31,1267.42 689.18,1265.81 710.05,1267.42 730.92,1263.65 751.79,1261.5 772.66,1268.5" fill="none" stroke="#EE6060" stroke-width="1.3"/>
<circle cx="188.3" cy="1275.5" r="7.45" fill="#E84A4A"/>
<circle cx="209.17" cy="867.32" r="7.45" fill="#E84A4A"/>
<circle cx="230.04" cy="1062.79" r="7.45" fill="#E84A4A"/>
<circle cx="250.91" cy="1164.57" r="7.45" fill="#E84A4A"/>
<circle cx="271.78" cy="1226.5" r="7.45" fill="#E84A4A"/>
<circle cx="292.65" cy="1201.73" r="7.45" fill="#E84A4A"/>
<circle cx="313.52" cy="1171.03" r="7.45" fill="#E84A4A"/>
<circle cx="334.39" cy="1159.18" r="7.45" fill="#E84A4A"/>
<circle cx="355.26" cy="1164.57" r="7.45" fill="#E84A4A"/>
<circle cx="376.13" cy="1148.95" r="7.45" fill="#E84A4A"/>
<circle cx="397" cy="1161.34" r="7.45" fill="#E84A4A"/>
<circle cx="417.87" cy="1187.72" r="7.45" fill="#E84A4A"/>
<circle cx="438.74" cy="1231.34" r="7.45" fill="#E84A4A"/>
<circle cx="459.61" cy="1223.8" r="7.45" fill="#E84A4A"/>
<circle cx="480.48" cy="1204.42" r="7.45" fill="#E84A4A"/>
<circle cx="501.35" cy="1217.34" r="7.45" fill="#E84A4A"/>
<circle cx="522.22" cy="1208.73" r="7.45" fill="#E84A4A"/>
<circle cx="543.09" cy="1228.65" r="7.45" fill="#E84A4A"/>
<circle cx="563.96" cy="1266.08" r="7.45" fill="#E84A4A"/>
<circle cx="584.83" cy="1267.42" r="7.45" fill="#E84A4A"/>
<circle cx="605.7" cy="1266.35" r="7.45" fill="#E84A4A"/>
<circle cx="626.57" cy="1264.73" r="7.45" fill="#E84A4A"/>
<circle cx="647.44" cy="1257.19" r="7.45" fill="#E84A4A"/>
<circle cx="668.31" cy="1267.42" r="7.45" fill="#E84A4A"/>
<circle cx="689.18" cy="1265.81" r="7.45" fill="#E84A4A"/>
<circle cx="710.05" cy="1267.42" r="7.45" fill="#E84A4A"/>
<circle cx="730.92" cy="1263.65" r="7.45" fill="#E84A4A"/>
<circle cx="751.79" cy="1261.5" r="7.45" fill="#E84A4A"/>
<circle cx="772.66" cy="1268.5" r="7.45" fill="#E84A4A"/>
<polyline points="188.3,1275.5 209.17,903.93 230.04,1121.49 250.91,1169.95 271.78,1233.5 292.65,1223.27 313.52,1190.96 334.39,1185.57 355.26,1189.34 376.13,1173.72 397,1176.95 417.87,1177.49 438.74,1188.8 459.61,1194.19 480.48,1197.96 501.35,1205.23 522.22,1195.8 543.09,1212.5 563.96,1259.35 584.83,1266.08 605.7,1272.81 626.57,1271.19 647.44,1270.12 668.31,1272 689.18,1270.92 710.05,1264.41 730.92,1260.58 751.79,1264.19 772.66,1266.08" fill="none" stroke="#2F7BE0" stroke-width="1.3"/>
<polygon points="188.3,1265.63 196.85,1280.44 179.75,1280.44" fill="#1E6FDB"/>
<polygon points="209.17,894.06 217.72,908.87 200.62,908.87" fill="#1E6FDB"/>
<polygon points="230.04,1111.62 238.59,1126.43 221.49,1126.43" fill="#1E6FDB"/>
<polygon points="250.91,1160.08 259.46,1174.89 242.36,1174.89" fill="#1E6FDB"/>
<polygon points="271.78,1223.62 280.33,1238.43 263.23,1238.43" fill="#1E6FDB"/>
<polygon points="292.65,1213.39 301.2,1228.2 284.1,1228.2" fill="#1E6FDB"/>
<polygon points="313.52,1181.08 322.07,1195.89 304.97,1195.89" fill="#1E6FDB"/>
<polygon points="334.39,1175.7 342.94,1190.51 325.84,1190.51" fill="#1E6FDB"/>
<polygon points="355.26,1179.47 363.81,1194.28 346.71,1194.28" fill="#1E6FDB"/>
<polygon points="376.13,1163.85 384.68,1178.66 367.58,1178.66" fill="#1E6FDB"/>
<polygon points="397,1167.08 405.55,1181.89 388.45,1181.89" fill="#1E6FDB"/>
<polygon points="417.87,1167.62 426.42,1182.43 409.32,1182.43" fill="#1E6FDB"/>
<polygon points="438.74,1178.93 447.29,1193.74 430.19,1193.74" fill="#1E6FDB"/>
<polygon points="459.61,1184.31 468.16,1199.12 451.06,1199.12" fill="#1E6FDB"/>
<polygon points="480.48,1188.08 489.03,1202.89 471.93,1202.89" fill="#1E6FDB"/>
<polygon points="501.35,1195.35 509.9,1210.16 492.8,1210.16" fill="#1E6FDB"/>
<polygon points="522.22,1185.93 530.77,1200.74 513.67,1200.74" fill="#1E6FDB"/>
<polygon points="543.09,1202.62 551.64,1217.43 534.54,1217.43" fill="#1E6FDB"/>
<polygon points="563.96,1249.47 572.51,1264.28 555.41,1264.28" fill="#1E6FDB"/>
<polygon points="584.83,1256.2 593.38,1271.01 576.28,1271.01" fill="#1E6FDB"/>
<polygon points="605.7,1262.94 614.25,1277.74 597.15,1277.74" fill="#1E6FDB"/>
<polygon points="626.57,1261.32 635.12,1276.13 618.02,1276.13" fill="#1E6FDB"/>
<polygon points="647.44,1260.24 655.99,1275.05 638.89,1275.05" fill="#1E6FDB"/>
<polygon points="668.31,1262.13 676.86,1276.94 659.76,1276.94" fill="#1E6FDB"/>
<polygon points="689.18,1261.05 697.73,1275.86 680.63,1275.86" fill="#1E6FDB"/>
<polygon points="710.05,1254.53 718.6,1269.34 701.5,1269.34" fill="#1E6FDB"/>
<polygon points="730.92,1250.71 739.47,1265.52 722.37,1265.52" fill="#1E6FDB"/>
<polygon points="751.79,1254.32 760.34,1269.13 743.24,1269.13" fill="#1E6FDB"/>
<polygon points="772.66,1256.2 781.21,1271.01 764.11,1271.01" fill="#1E6FDB"/>
<polyline points="188.3,1275.5 209.17,858.7 230.04,1082.72 250.91,1167.26 271.78,1208.73 292.65,1178.57 313.52,1148.41 334.39,1149.49 355.26,1167.26 376.13,1175.88 397,1172.11 417.87,1179.65 438.74,1183.42 459.61,1190.42 480.48,1226.5 501.35,1265.27 522.22,1256.11 543.09,1266.08 563.96,1263.11 584.83,1264.73 605.7,1260.96 626.57,1254.77 647.44,1256.11 668.31,1266.35 689.18,1263.92 710.05,1267.42 730.92,1270.12 751.79,1270.12 772.66,1270.65" fill="none" stroke="#5BB882" stroke-width="1.3"/>
<polygon points="188.3,1285.37 196.85,1270.56 179.75,1270.56" fill="#3DA56A"/>
<polygon points="209.17,868.57 217.72,853.76 200.62,853.76" fill="#3DA56A"/>
<polygon points="230.04,1092.59 238.59,1077.78 221.49,1077.78" fill="#3DA56A"/>
<polygon points="250.91,1177.13 259.46,1162.33 242.36,1162.33" fill="#3DA56A"/>
<polygon points="271.78,1218.6 280.33,1203.79 263.23,1203.79" fill="#3DA56A"/>
<polygon points="292.65,1188.44 301.2,1173.63 284.1,1173.63" fill="#3DA56A"/>
<polygon points="313.52,1158.29 322.07,1143.48 304.97,1143.48" fill="#3DA56A"/>
<polygon points="334.39,1159.36 342.94,1144.55 325.84,1144.55" fill="#3DA56A"/>
<polygon points="355.26,1177.13 363.81,1162.33 346.71,1162.33" fill="#3DA56A"/>
<polygon points="376.13,1185.75 384.68,1170.94 367.58,1170.94" fill="#3DA56A"/>
<polygon points="397,1181.98 405.55,1167.17 388.45,1167.17" fill="#3DA56A"/>
<polygon points="417.87,1189.52 426.42,1174.71 409.32,1174.71" fill="#3DA56A"/>
<polygon points="438.74,1193.29 447.29,1178.48 430.19,1178.48" fill="#3DA56A"/>
<polygon points="459.61,1200.29 468.16,1185.48 451.06,1185.48" fill="#3DA56A"/>
<polygon points="480.48,1236.37 489.03,1221.56 471.93,1221.56" fill="#3DA56A"/>
<polygon points="501.35,1275.14 509.9,1260.33 492.8,1260.33" fill="#3DA56A"/>
<polygon points="522.22,1265.99 530.77,1251.18 513.67,1251.18" fill="#3DA56A"/>
<polygon points="543.09,1275.95 551.64,1261.14 534.54,1261.14" fill="#3DA56A"/>
<polygon points="563.96,1272.99 572.51,1258.18 555.41,1258.18" fill="#3DA56A"/>
<polygon points="584.83,1274.6 593.38,1259.79 576.28,1259.79" fill="#3DA56A"/>
<polygon points="605.7,1270.83 614.25,1256.02 597.15,1256.02" fill="#3DA56A"/>
<polygon points="626.57,1264.64 635.12,1249.83 618.02,1249.83" fill="#3DA56A"/>
<polygon points="647.44,1265.99 655.99,1251.18 638.89,1251.18" fill="#3DA56A"/>
<polygon points="668.31,1276.22 676.86,1261.41 659.76,1261.41" fill="#3DA56A"/>
<polygon points="689.18,1273.79 697.73,1258.99 680.63,1258.99" fill="#3DA56A"/>
<polygon points="710.05,1277.29 718.6,1262.49 701.5,1262.49" fill="#3DA56A"/>
<polygon points="730.92,1279.99 739.47,1265.18 722.37,1265.18" fill="#3DA56A"/>
<polygon points="751.79,1279.99 760.34,1265.18 743.24,1265.18" fill="#3DA56A"/>
<polygon points="772.66,1280.53 781.21,1265.72 764.11,1265.72" fill="#3DA56A"/>
<polyline points="188.3,1275.5 209.17,853.32 230.04,1060.64 250.91,1180.72 271.78,1190.42 292.65,1139.26 313.52,1110.18 334.39,1136.57 355.26,1150.03 376.13,1143.03 397,1157.57 417.87,1141.95 438.74,1153.8 459.61,1243.19 480.48,1242.11 501.35,1253.69 522.22,1262.58 543.09,1259.35 563.96,1255.04 584.83,1253.69 605.7,1269.31 626.57,1258.81 647.44,1265.27 668.31,1267.42 689.18,1265.54 710.05,1264.73 730.92,1267.96 751.79,1268.5 772.66,1266.88" fill="none" stroke="#C49AE6" stroke-width="1.3"/>
<polygon points="188.3,1266.55 197.25,1275.5 188.3,1284.45 179.35,1275.5" fill="#AE72DD"/>
<polygon points="209.17,844.37 218.12,853.32 209.17,862.27 200.22,853.32" fill="#AE72DD"/>
<polygon points="230.04,1051.69 238.99,1060.64 230.04,1069.59 221.09,1060.64" fill="#AE72DD"/>
<polygon points="250.91,1171.77 259.86,1180.72 250.91,1189.67 241.96,1180.72" fill="#AE72DD"/>
<polygon points="271.78,1181.47 280.73,1190.42 271.78,1199.37 262.83,1190.42" fill="#AE72DD"/>
<polygon points="292.65,1130.31 301.6,1139.26 292.65,1148.21 283.7,1139.26" fill="#AE72DD"/>
<polygon points="313.52,1101.23 322.47,1110.18 313.52,1119.13 304.57,1110.18" fill="#AE72DD"/>
<polygon points="334.39,1127.62 343.34,1136.57 334.39,1145.52 325.44,1136.57" fill="#AE72DD"/>
<polygon points="355.26,1141.08 364.21,1150.03 355.26,1158.98 346.31,1150.03" fill="#AE72DD"/>
<polygon points="376.13,1134.08 385.08,1143.03 376.13,1151.98 367.18,1143.03" fill="#AE72DD"/>
<polygon points="397,1148.62 405.95,1157.57 397,1166.52 388.05,1157.57" fill="#AE72DD"/>
<polygon points="417.87,1133 426.82,1141.95 417.87,1150.9 408.92,1141.95" fill="#AE72DD"/>
<polygon points="438.74,1144.85 447.69,1153.8 438.74,1162.75 429.79,1153.8" fill="#AE72DD"/>
<polygon points="459.61,1234.24 468.56,1243.19 459.61,1252.14 450.66,1243.19" fill="#AE72DD"/>
<polygon points="480.48,1233.16 489.43,1242.11 480.48,1251.06 471.53,1242.11" fill="#AE72DD"/>
<polygon points="501.35,1244.74 510.3,1253.69 501.35,1262.64 492.4,1253.69" fill="#AE72DD"/>
<polygon points="522.22,1253.63 531.17,1262.58 522.22,1271.53 513.27,1262.58" fill="#AE72DD"/>
<polygon points="543.09,1250.39 552.04,1259.35 543.09,1268.3 534.14,1259.35" fill="#AE72DD"/>
<polygon points="563.96,1246.09 572.91,1255.04 563.96,1263.99 555.01,1255.04" fill="#AE72DD"/>
<polygon points="584.83,1244.74 593.78,1253.69 584.83,1262.64 575.88,1253.69" fill="#AE72DD"/>
<polygon points="605.7,1260.36 614.65,1269.31 605.7,1278.26 596.75,1269.31" fill="#AE72DD"/>
<polygon points="626.57,1249.86 635.52,1258.81 626.57,1267.76 617.62,1258.81" fill="#AE72DD"/>
<polygon points="647.44,1256.32 656.39,1265.27 647.44,1274.22 638.49,1265.27" fill="#AE72DD"/>
<polygon points="668.31,1258.47 677.26,1267.42 668.31,1276.37 659.36,1267.42" fill="#AE72DD"/>
<polygon points="689.18,1256.59 698.13,1265.54 689.18,1274.49 680.23,1265.54" fill="#AE72DD"/>
<polygon points="710.05,1255.78 719,1264.73 710.05,1273.68 701.1,1264.73" fill="#AE72DD"/>
<polygon points="730.92,1259.01 739.87,1267.96 730.92,1276.91 721.97,1267.96" fill="#AE72DD"/>
<polygon points="751.79,1259.55 760.74,1268.5 751.79,1277.45 742.84,1268.5" fill="#AE72DD"/>
<polygon points="772.66,1257.93 781.61,1266.88 772.66,1275.83 763.71,1266.88" fill="#AE72DD"/>
<polyline points="188.3,1275.5 209.17,889.93 230.04,1085.95 250.91,1206.03 271.78,1203.88 292.65,1157.57 313.52,1139.8 334.39,1147.61 355.26,1141.41 376.13,1134.95 397,1154.88 417.87,1139.26 438.74,1168.34 459.61,1240.5 480.48,1256.11 501.35,1259.35 522.22,1260.42 543.09,1258.81 563.96,1263.11 584.83,1260.42 605.7,1267.15 626.57,1260.96 647.44,1267.42 668.31,1267.96 689.18,1264.73 710.05,1266.02 730.92,1270.12 751.79,1271.19 772.66,1268.77" fill="none" stroke="#D4A020" stroke-width="1.3"/>
<polygon points="178.43,1275.5 193.24,1266.95 193.24,1284.05" fill="#CC9A0A"/>
<polygon points="199.3,889.93 214.11,881.38 214.11,898.48" fill="#CC9A0A"/>
<polygon points="220.17,1085.95 234.98,1077.4 234.98,1094.5" fill="#CC9A0A"/>
<polygon points="241.04,1206.03 255.85,1197.48 255.85,1214.58" fill="#CC9A0A"/>
<polygon points="261.91,1203.88 276.72,1195.33 276.72,1212.43" fill="#CC9A0A"/>
<polygon points="282.78,1157.57 297.59,1149.02 297.59,1166.12" fill="#CC9A0A"/>
<polygon points="303.65,1139.8 318.46,1131.25 318.46,1148.35" fill="#CC9A0A"/>
<polygon points="324.52,1147.61 339.33,1139.06 339.33,1156.16" fill="#CC9A0A"/>
<polygon points="345.39,1141.41 360.2,1132.86 360.2,1149.96" fill="#CC9A0A"/>
<polygon points="366.26,1134.95 381.07,1126.4 381.07,1143.5" fill="#CC9A0A"/>
<polygon points="387.13,1154.88 401.94,1146.33 401.94,1163.43" fill="#CC9A0A"/>
<polygon points="408,1139.26 422.81,1130.71 422.81,1147.81" fill="#CC9A0A"/>
<polygon points="428.87,1168.34 443.68,1159.79 443.68,1176.89" fill="#CC9A0A"/>
<polygon points="449.74,1240.5 464.55,1231.95 464.55,1249.05" fill="#CC9A0A"/>
<polygon points="470.61,1256.11 485.42,1247.56 485.42,1264.66" fill="#CC9A0A"/>
<polygon points="491.48,1259.35 506.29,1250.8 506.29,1267.89" fill="#CC9A0A"/>
<polygon points="512.35,1260.42 527.16,1251.87 527.16,1268.97" fill="#CC9A0A"/>
<polygon points="533.22,1258.81 548.03,1250.26 548.03,1267.36" fill="#CC9A0A"/>
<polygon points="554.09,1263.11 568.9,1254.56 568.9,1271.66" fill="#CC9A0A"/>
<polygon points="574.96,1260.42 589.77,1251.87 589.77,1268.97" fill="#CC9A0A"/>
<polygon points="595.83,1267.15 610.64,1258.6 610.64,1275.7" fill="#CC9A0A"/>
<polygon points="616.7,1260.96 631.51,1252.41 631.51,1269.51" fill="#CC9A0A"/>
<polygon points="637.57,1267.42 652.38,1258.87 652.38,1275.97" fill="#CC9A0A"/>
<polygon points="658.44,1267.96 673.25,1259.41 673.25,1276.51" fill="#CC9A0A"/>
<polygon points="679.31,1264.73 694.12,1256.18 694.12,1273.28" fill="#CC9A0A"/>
<polygon points="700.18,1266.02 714.99,1257.47 714.99,1274.57" fill="#CC9A0A"/>
<polygon points="721.05,1270.12 735.86,1261.57 735.86,1278.66" fill="#CC9A0A"/>
<polygon points="741.92,1271.19 756.73,1262.64 756.73,1279.74" fill="#CC9A0A"/>
<polygon points="762.79,1268.77 777.6,1260.22 777.6,1277.32" fill="#CC9A0A"/>
<path d="M209.17 810.32V924.32M203.32 810.32h11.7M203.32 924.32h11.7M230.04 1016.49V1109.09M224.19 1016.49h11.7M224.19 1109.09h11.7M250.91 1144.57V1184.57M245.06 1144.57h11.7M245.06 1184.57h11.7M271.78 1208.8V1244.2M265.93 1208.8h11.7M265.93 1244.2h11.7M292.65 1188.73V1214.73M286.8 1188.73h11.7M286.8 1214.73h11.7M313.52 1161.03V1181.03M307.67 1161.03h11.7M307.67 1181.03h11.7M334.39 1147.18V1171.18M328.54 1147.18h11.7M328.54 1171.18h11.7M355.26 1154.57V1174.57M349.41 1154.57h11.7M349.41 1174.57h11.7M376.13 1140.95V1156.95M370.28 1140.95h11.7M370.28 1156.95h11.7M397 1151.34V1171.34M391.15 1151.34h11.7M391.15 1171.34h11.7" fill="none" stroke="#F08989" stroke-width="1.2"/>
<path d="M209.17 833.93V973.93M203.32 833.93h11.7M203.32 973.93h11.7M230.04 1098.59V1144.39M224.19 1098.59h11.7M224.19 1144.39h11.7M250.91 1159.95V1179.95M245.06 1159.95h11.7M245.06 1179.95h11.7M271.78 1219.5V1247.5M265.93 1219.5h11.7M265.93 1247.5h11.7M292.65 1213.27V1233.27M286.8 1213.27h11.7M286.8 1233.27h11.7M313.52 1177.46V1204.46M307.67 1177.46h11.7M307.67 1204.46h11.7M334.39 1161.57V1209.57M328.54 1161.57h11.7M328.54 1209.57h11.7M355.26 1178.34V1200.34M349.41 1178.34h11.7M349.41 1200.34h11.7M376.13 1163.72V1183.72M370.28 1163.72h11.7M370.28 1183.72h11.7M397 1164.95V1188.95M391.15 1164.95h11.7M391.15 1188.95h11.7M417.87 1170.49V1184.49M412.02 1170.49h11.7M412.02 1184.49h11.7M438.74 1179.3V1198.3M432.89 1179.3h11.7M432.89 1198.3h11.7M459.61 1186.19V1202.19M453.76 1186.19h11.7M453.76 1202.19h11.7M480.48 1191.96V1203.96M474.63 1191.96h11.7M474.63 1203.96h11.7M501.35 1199.63V1210.83M495.5 1199.63h11.7M495.5 1210.83h11.7M522.22 1190.4V1201.2M516.37 1190.4h11.7M516.37 1201.2h11.7M543.09 1207.5V1217.5M537.24 1207.5h11.7M537.24 1217.5h11.7" fill="none" stroke="#6DA1E8" stroke-width="1.2"/>
<path d="M209.17 799.2V918.2M203.32 799.2h11.7M203.32 918.2h11.7M230.04 1036.32V1129.12M224.19 1036.32h11.7M224.19 1129.12h11.7M250.91 1139.26V1195.26M245.06 1139.26h11.7M245.06 1195.26h11.7M271.78 1188.73V1228.73M265.93 1188.73h11.7M265.93 1228.73h11.7M292.65 1136.97V1220.17M286.8 1136.97h11.7M286.8 1220.17h11.7M313.52 1099.41V1197.41M307.67 1099.41h11.7M307.67 1197.41h11.7M334.39 1110.49V1188.49M328.54 1110.49h11.7M328.54 1188.49h11.7M355.26 1133.26V1201.26M349.41 1133.26h11.7M349.41 1201.26h11.7M376.13 1150.48V1201.28M370.28 1150.48h11.7M370.28 1201.28h11.7M397 1143.11V1201.11M391.15 1143.11h11.7M391.15 1201.11h11.7M417.87 1152.65V1206.65M412.02 1152.65h11.7M412.02 1206.65h11.7M438.74 1162.82V1204.02M432.89 1162.82h11.7M432.89 1204.02h11.7M459.61 1163.72V1217.12M453.76 1163.72h11.7M453.76 1217.12h11.7M480.48 1215.5V1237.5M474.63 1215.5h11.7M474.63 1237.5h11.7M501.35 1260.27V1270.27M495.5 1260.27h11.7M495.5 1270.27h11.7" fill="none" stroke="#81C49E" stroke-width="1.2"/>
<path d="M209.17 782.32V924.32M203.32 782.32h11.7M203.32 924.32h11.7M230.04 1014.34V1106.94M224.19 1014.34h11.7M224.19 1106.94h11.7M250.91 1151.22V1210.22M245.06 1151.22h11.7M245.06 1210.22h11.7M271.78 1158.42V1222.42M265.93 1158.42h11.7M265.93 1222.42h11.7M292.65 1098.46V1180.06M286.8 1098.46h11.7M286.8 1180.06h11.7M313.52 1073.18V1147.18M307.67 1073.18h11.7M307.67 1147.18h11.7M334.39 1098.07V1175.07M328.54 1098.07h11.7M328.54 1175.07h11.7M355.26 1116.43V1183.63M349.41 1116.43h11.7M349.41 1183.63h11.7M376.13 1109.23V1176.83M370.28 1109.23h11.7M370.28 1176.83h11.7M397 1125.57V1189.57M391.15 1125.57h11.7M391.15 1189.57h11.7M417.87 1104.95V1178.95M412.02 1104.95h11.7M412.02 1178.95h11.7M438.74 1145.1V1162.5M432.89 1145.1h11.7M432.89 1162.5h11.7M459.61 1237.19V1249.19M453.76 1237.19h11.7M453.76 1249.19h11.7M480.48 1233.11V1251.11M474.63 1233.11h11.7M474.63 1251.11h11.7M501.35 1248.69V1258.69M495.5 1248.69h11.7M495.5 1258.69h11.7" fill="none" stroke="#CAA3E9" stroke-width="1.2"/>
<path d="M209.17 779.93V999.93M203.32 779.93h11.7M203.32 999.93h11.7M230.04 1032.15V1139.75M224.19 1032.15h11.7M224.19 1139.75h11.7M250.91 1190.03V1222.03M245.06 1190.03h11.7M245.06 1222.03h11.7M271.78 1177.88V1229.88M265.93 1177.88h11.7M265.93 1229.88h11.7M292.65 1122.17V1192.97M286.8 1122.17h11.7M286.8 1192.97h11.7M313.52 1105.4V1174.2M307.67 1105.4h11.7M307.67 1174.2h11.7M334.39 1105.61V1189.61M328.54 1105.61h11.7M328.54 1189.61h11.7M355.26 1106.41V1176.41M349.41 1106.41h11.7M349.41 1176.41h11.7M376.13 1103.45V1166.45M370.28 1103.45h11.7M370.28 1166.45h11.7M397 1120.38V1189.38M391.15 1120.38h11.7M391.15 1189.38h11.7M417.87 1105.26V1173.26M412.02 1105.26h11.7M412.02 1173.26h11.7M438.74 1155.34V1181.34M432.89 1155.34h11.7M432.89 1181.34h11.7M459.61 1234.5V1246.5M453.76 1234.5h11.7M453.76 1246.5h11.7M480.48 1251.11V1261.11M474.63 1251.11h11.7M474.63 1261.11h11.7" fill="none" stroke="#DEBD60" stroke-width="1.2"/>
</g>
<path d="M136.2 684.9H866.3V1275.4H136.2Z" fill="none" stroke="#000" stroke-width="2"/>
<path d="M188.3 1275.4v11M292.65 1275.4v11M397 1275.4v11M501.35 1275.4v11M605.7 1275.4v11M710.05 1275.4v11M814.4 1275.4v11M136.12 1275.4v6M240.48 1275.4v6M344.83 1275.4v6M449.18 1275.4v6M553.53 1275.4v6M657.88 1275.4v6M762.23 1275.4v6M866.58 1275.4v6M136.2 1275.4h-11M136.2 1168.04h-11M136.2 1060.68h-11M136.2 953.32h-11M136.2 845.96h-11M136.2 738.6h-11M136.2 1221.72h-6M136.2 1114.36h-6M136.2 1007h-6M136.2 899.64h-6M136.2 792.28h-6M136.2 684.92h-6" stroke="#000" stroke-width="2" fill="none"/>
<path d="M627 735.6H696" stroke="#888888" stroke-width="1.3"/>
<rect x="655.15" y="729.05" width="13.1" height="13.1" fill="#555555"/>
<text transform="translate(702.9 746.6) scale(0.98 1)" font-size="31.5">raw sludge</text>
<path d="M627 773.3H696" stroke="#EE6060" stroke-width="1.3"/>
<circle cx="661.7" cy="773.3" r="7.45" fill="#E84A4A"/>
<text transform="translate(702.9 784.3) scale(0.98 1)" font-size="31.5">raw EFD</text>
<path d="M627 811.3H696" stroke="#2F7BE0" stroke-width="1.3"/>
<polygon points="661.7,801.43 670.25,816.24 653.15,816.24" fill="#1E6FDB"/>
<text x="703.9" y="822.3" font-size="31.5">80<tspan dx="-1.2">°</tspan><tspan dx="-1.6">C</tspan></text>
<path d="M627 848.9H696" stroke="#5BB882" stroke-width="1.3"/>
<polygon points="661.7,858.77 670.25,843.96 653.15,843.96" fill="#3DA56A"/>
<text x="703.9" y="859.9" font-size="31.5">120<tspan dx="-1.2">°</tspan><tspan dx="-1.6">C</tspan></text>
<path d="M627 886.6H696" stroke="#C49AE6" stroke-width="1.3"/>
<polygon points="661.7,877.65 670.65,886.6 661.7,895.55 652.75,886.6" fill="#AE72DD"/>
<text x="703.9" y="897.6" font-size="31.5">160<tspan dx="-1.2">°</tspan><tspan dx="-1.6">C</tspan></text>
<path d="M627 924.1H696" stroke="#D4A020" stroke-width="1.3"/>
<polygon points="651.83,924.1 666.64,915.55 666.64,932.65" fill="#CC9A0A"/>
<text x="703.9" y="935.1" font-size="31.5">180<tspan dx="-1.2">°</tspan><tspan dx="-1.6">C</tspan></text>
<path d="M176 838.1H240.2V881H176Z" fill="none" stroke="#FF2A2A" stroke-width="2" stroke-dasharray="8 6"/>
<path d="M281.8 1084.2H345.8V1127.4H281.8Z" fill="none" stroke="#FF2A2A" stroke-width="2" stroke-dasharray="8 6"/>
</svg></body></html>
